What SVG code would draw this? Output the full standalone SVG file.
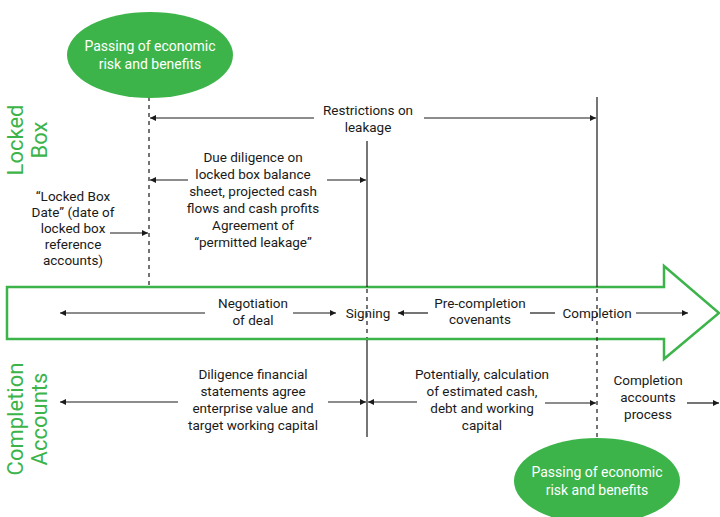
<svg xmlns="http://www.w3.org/2000/svg" width="720" height="517" viewBox="0 0 720 517">
<defs>
<marker id="ah" viewBox="0 0 10 10" refX="10" refY="5" markerWidth="6" markerHeight="6" markerUnits="userSpaceOnUse" orient="auto">
<path d="M0,0 L10,5 L0,10 z" fill="#1a1a1a"/>
</marker>
<style>
.t{font-family:Roboto,"Liberation Sans",sans-serif;font-size:13.5px;fill:#1a1a1a;text-anchor:middle}
.w{font-family:Roboto,"Liberation Sans",sans-serif;font-size:14px;fill:#ffffff;text-anchor:middle}
.g{font-family:Roboto,"Liberation Sans",sans-serif;font-size:22px;fill:#3cb44a;text-anchor:middle}
.c{stroke:#1a1a1a;stroke-width:1.2;fill:none}
.a{stroke:#1a1a1a;stroke-width:1.2;fill:none;marker-end:url(#ah)}
.d{stroke:#1a1a1a;stroke-width:1.2;fill:none;stroke-dasharray:4 4}
</style>
</defs>
<rect width="720" height="517" fill="#ffffff"/>

<g id="timeline-arrow">
<polygon points="7,287 664,287 664,266 719,313 664,359 664,339 7,339" fill="#ffffff" stroke="#3cb44a" stroke-width="2.5"/>
</g>

<g id="side-labels">
<text class="g" transform="translate(23,140) rotate(-90)">Locked</text>
<text class="g" transform="translate(47,140) rotate(-90)">Box</text>
<text class="g" transform="translate(23,419) rotate(-90)">Completion</text>
<text class="g" transform="translate(47,419) rotate(-90)">Accounts</text>
</g>

<g id="connectors">
<line class="d" x1="149" y1="97" x2="149" y2="286"/>
<line class="c" x1="367" y1="141" x2="367" y2="287"/>
<line class="d" x1="367" y1="289" x2="367" y2="338"/>
<line class="c" x1="367" y1="340" x2="367" y2="437"/>
<line class="c" x1="597" y1="97" x2="597" y2="287"/>
<line class="d" x1="597" y1="289" x2="597" y2="440"/>

<line class="a" x1="314" y1="118" x2="150" y2="118"/>
<line class="a" x1="424" y1="118" x2="596" y2="118"/>
<line class="a" x1="188" y1="180" x2="150" y2="180"/>
<line class="a" x1="327" y1="180" x2="366" y2="180"/>
<line class="a" x1="110" y1="233" x2="148" y2="233"/>

<line class="a" x1="205" y1="313" x2="60" y2="313"/>
<line class="a" x1="293" y1="313" x2="336" y2="313"/>
<line class="a" x1="428" y1="313" x2="398" y2="313"/>
<line class="c" x1="530" y1="313" x2="555" y2="313"/>
<line class="a" x1="636" y1="313" x2="688" y2="313"/>

<line class="a" x1="178" y1="402" x2="60" y2="402"/>
<line class="a" x1="328" y1="402" x2="366" y2="402"/>
<line class="a" x1="417" y1="402" x2="368" y2="402"/>
<line class="a" x1="545" y1="403" x2="596" y2="403"/>
<line class="a" x1="687" y1="403" x2="719" y2="403"/>
</g>

<g id="ellipse-top">
<ellipse cx="150" cy="55" rx="83" ry="43" fill="#3cb44a"/>
<text class="w" x="150" y="51">Passing of economic</text>
<text class="w" x="150" y="69">risk and benefits</text>
</g>

<g id="ellipse-bottom">
<ellipse cx="597" cy="481" rx="83" ry="43" fill="#3cb44a"/>
<text class="w" x="597" y="477">Passing of economic</text>
<text class="w" x="597" y="495">risk and benefits</text>
</g>

<g id="restrictions">
<text class="t" x="368" y="115">Restrictions on</text>
<text class="t" x="368" y="132">leakage</text>
</g>

<g id="due-diligence">
<text class="t" x="253" y="162">Due diligence on</text>
<text class="t" x="253" y="179">locked box balance</text>
<text class="t" x="253" y="196">sheet, projected cash</text>
<text class="t" x="253" y="213">flows and cash profits</text>
<text class="t" x="253" y="230">Agreement of</text>
<text class="t" x="253" y="247">“permitted leakage”</text>
</g>

<g id="locked-box-date">
<text class="t" x="73" y="201">“Locked Box</text>
<text class="t" x="73" y="217">Date” (date of</text>
<text class="t" x="73" y="233">locked box</text>
<text class="t" x="73" y="249">reference</text>
<text class="t" x="73" y="265">accounts)</text>
</g>

<g id="negotiation">
<text class="t" x="253" y="308">Negotiation</text>
<text class="t" x="253" y="325">of deal</text>
</g>

<g id="signing">
<text class="t" x="368" y="318">Signing</text>
</g>

<g id="pre-completion">
<text class="t" x="480" y="308">Pre-completion</text>
<text class="t" x="480" y="324">covenants</text>
</g>

<g id="completion">
<text class="t" x="597" y="318">Completion</text>
</g>

<g id="diligence-financial">
<text class="t" x="253" y="379">Diligence financial</text>
<text class="t" x="253" y="396">statements agree</text>
<text class="t" x="253" y="413">enterprise value and</text>
<text class="t" x="253" y="430">target working capital</text>
</g>

<g id="potentially">
<text class="t" x="482" y="379">Potentially, calculation</text>
<text class="t" x="482" y="396">of estimated cash,</text>
<text class="t" x="482" y="413">debt and working</text>
<text class="t" x="482" y="430">capital</text>
</g>

<g id="completion-accounts">
<text class="t" x="648" y="385">Completion</text>
<text class="t" x="648" y="402">accounts</text>
<text class="t" x="648" y="419">process</text>
</g>
</svg>
